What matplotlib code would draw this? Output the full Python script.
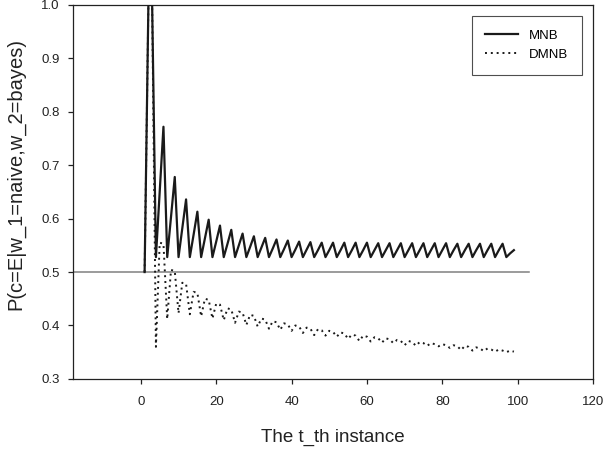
"""Naive vs Bayes probability over the t-th instance (MNB / DMNB)."""

import matplotlib

matplotlib.use("Agg")
import matplotlib.pyplot as plt
import numpy as np

plt.rcParams["font.family"] = ["Liberation Sans", "DejaVu Sans"]

INSTANCE = np.arange(1, 100)

MNB = [
    0.500, 1.000, 1.000,
    0.528, 0.650, 0.772,
    0.528, 0.603, 0.678,
    0.528, 0.582, 0.636,
    0.528, 0.570, 0.613,
    0.528, 0.563, 0.598,
    0.528, 0.557, 0.587,
    0.528, 0.553, 0.579,
    0.528, 0.550, 0.572,
    0.528, 0.547, 0.567,
    0.528, 0.546, 0.564,
    0.528, 0.544, 0.561,
    0.528, 0.543, 0.559,
    0.528, 0.542, 0.557,
    0.528, 0.542, 0.556,
    0.528, 0.541, 0.555,
    0.528, 0.541, 0.555,
    0.528, 0.541, 0.555,
    0.528, 0.541, 0.555,
    0.528, 0.541, 0.555,
    0.528, 0.541, 0.554,
    0.528, 0.541, 0.554,
    0.528, 0.541, 0.554,
    0.528, 0.541, 0.554,
    0.528, 0.541, 0.554,
    0.528, 0.541, 0.554,
    0.528, 0.541, 0.554,
    0.528, 0.541, 0.553,
    0.528, 0.541, 0.553,
    0.528, 0.541, 0.553,
    0.528, 0.541, 0.553,
    0.528, 0.541, 0.553,
    0.528, 0.535, 0.541,
]

DMNB = [
    0.500, 1.000, 1.000,
    0.360, 0.555, 0.553,
    0.412, 0.504, 0.502,
    0.423, 0.480, 0.478,
    0.421, 0.463, 0.461,
    0.417, 0.450, 0.448,
    0.413, 0.441, 0.439,
    0.410, 0.432, 0.430,
    0.405, 0.426, 0.424,
    0.401, 0.420, 0.418,
    0.398, 0.413, 0.411,
    0.394, 0.408, 0.406,
    0.392, 0.404, 0.402,
    0.390, 0.400, 0.398,
    0.386, 0.396, 0.394,
    0.382, 0.393, 0.391,
    0.381, 0.390, 0.388,
    0.379, 0.387, 0.385,
    0.375, 0.383, 0.381,
    0.371, 0.381, 0.379,
    0.370, 0.378, 0.376,
    0.368, 0.376, 0.374,
    0.367, 0.373, 0.371,
    0.363, 0.371, 0.369,
    0.362, 0.369, 0.367,
    0.362, 0.367, 0.365,
    0.361, 0.365, 0.363,
    0.358, 0.363, 0.361,
    0.354, 0.362, 0.360,
    0.353, 0.359, 0.357,
    0.352, 0.357, 0.355,
    0.351, 0.355, 0.353,
    0.350, 0.353, 0.351,
]

CHANCE = 0.5
CHANCE_X = [-18, 103]


def main():
    fig = plt.figure(figsize=(6.05, 4.5), dpi=100)
    ax = fig.add_axes([0.1207, 0.158, 0.8595, 0.831])

    ax.plot(CHANCE_X, [CHANCE, CHANCE], color="#808080", lw=1.1, zorder=1)
    ax.plot(INSTANCE, MNB, color="#1a1a1a", lw=1.6, label="MNB", zorder=3)
    ax.plot(
        INSTANCE,
        DMNB,
        color="#1a1a1a",
        lw=1.4,
        linestyle=(0, (1, 2)),
        label="DMNB",
        zorder=2,
    )

    ax.set_xlim(-18, 120)
    ax.set_ylim(0.3, 1.0)
    ax.set_xticks(np.arange(0, 121, 20))
    ax.set_yticks(np.arange(0.3, 1.01, 0.1))
    ax.set_yticklabels([f"{v:.1f}" for v in np.arange(0.3, 1.01, 0.1)])
    ax.tick_params(
        direction="out", length=3.5, width=0.9, labelsize=9.5, colors="#222222"
    )
    ax.tick_params(axis="x", pad=9)
    ax.tick_params(axis="y", pad=6)
    for side in ax.spines.values():
        side.set_linewidth(0.9)
        side.set_color("#222222")

    ax.set_xlabel("The t_th instance", fontsize=13.5, labelpad=15, color="#222222")
    ax.set_ylabel(
        "P(c=E|w_1=naive,w_2=bayes)", fontsize=14.5, color="#222222"
    )
    ax.yaxis.set_label_coords(-0.092, 0.548)

    leg = ax.legend(
        loc="upper right",
        bbox_to_anchor=(0.979, 0.9706),
        borderaxespad=0,
        fontsize=9.5,
        frameon=True,
        fancybox=False,
        handlelength=2.5,
        handletextpad=0.8,
        borderpad=1.05,
        labelspacing=0.5,
    )
    leg.get_frame().set_edgecolor("#222222")
    leg.get_frame().set_linewidth(0.8)

    fig.savefig("out.png", dpi=100)
    plt.close(fig)


if __name__ == "__main__":
    main()
